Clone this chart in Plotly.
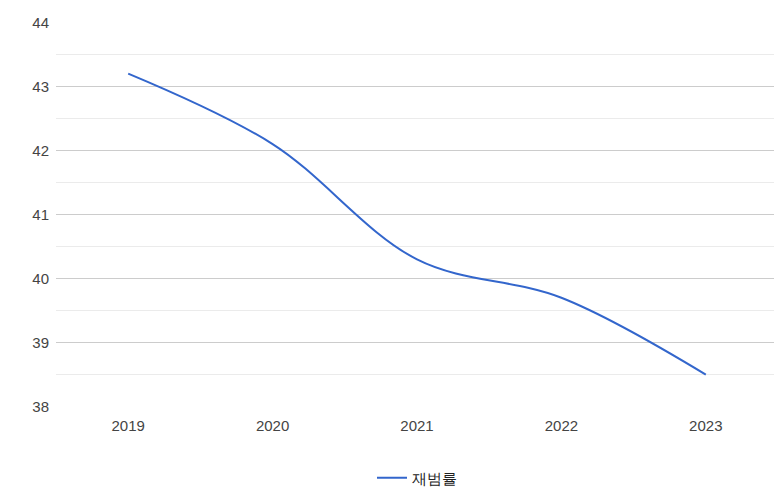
import plotly.graph_objects as go

years = ["2019", "2020", "2021", "2022", "2023"]
rate = [43.2, 42.1, 40.3, 39.7, 38.5]

fig = go.Figure()
fig.add_trace(go.Scatter(
    x=years, y=rate, name="재범률", mode="lines",
    line=dict(color="#3366cc", width=2, shape="spline", smoothing=1.0),
))

fig.update_layout(
    width=782, height=488,
    margin=dict(l=48, r=12, t=14, b=89),
    paper_bgcolor="white", plot_bgcolor="white",
    font=dict(family="Arial, Liberation Sans", size=15, color="#444"),
    showlegend=True,
    legend=dict(orientation="h", yref="container", x=0.5, xanchor="center",
                y=0.037, yanchor="middle", font=dict(size=15, color="#222")),
    xaxis=dict(type="category", range=[-0.5, 4.5], showgrid=False, showline=False,
               ticks="", ticklabelstandoff=8, automargin=False),
    yaxis=dict(range=[37.995, 44.005], dtick=1, showgrid=True, gridcolor="#cccccc",
               zeroline=False, showline=False, ticks="", automargin=False,
               ticklabelstandoff=6,
               minor=dict(dtick=0.5, showgrid=True, gridcolor="#ebebeb")),
)

fig.write_html("out.html")
